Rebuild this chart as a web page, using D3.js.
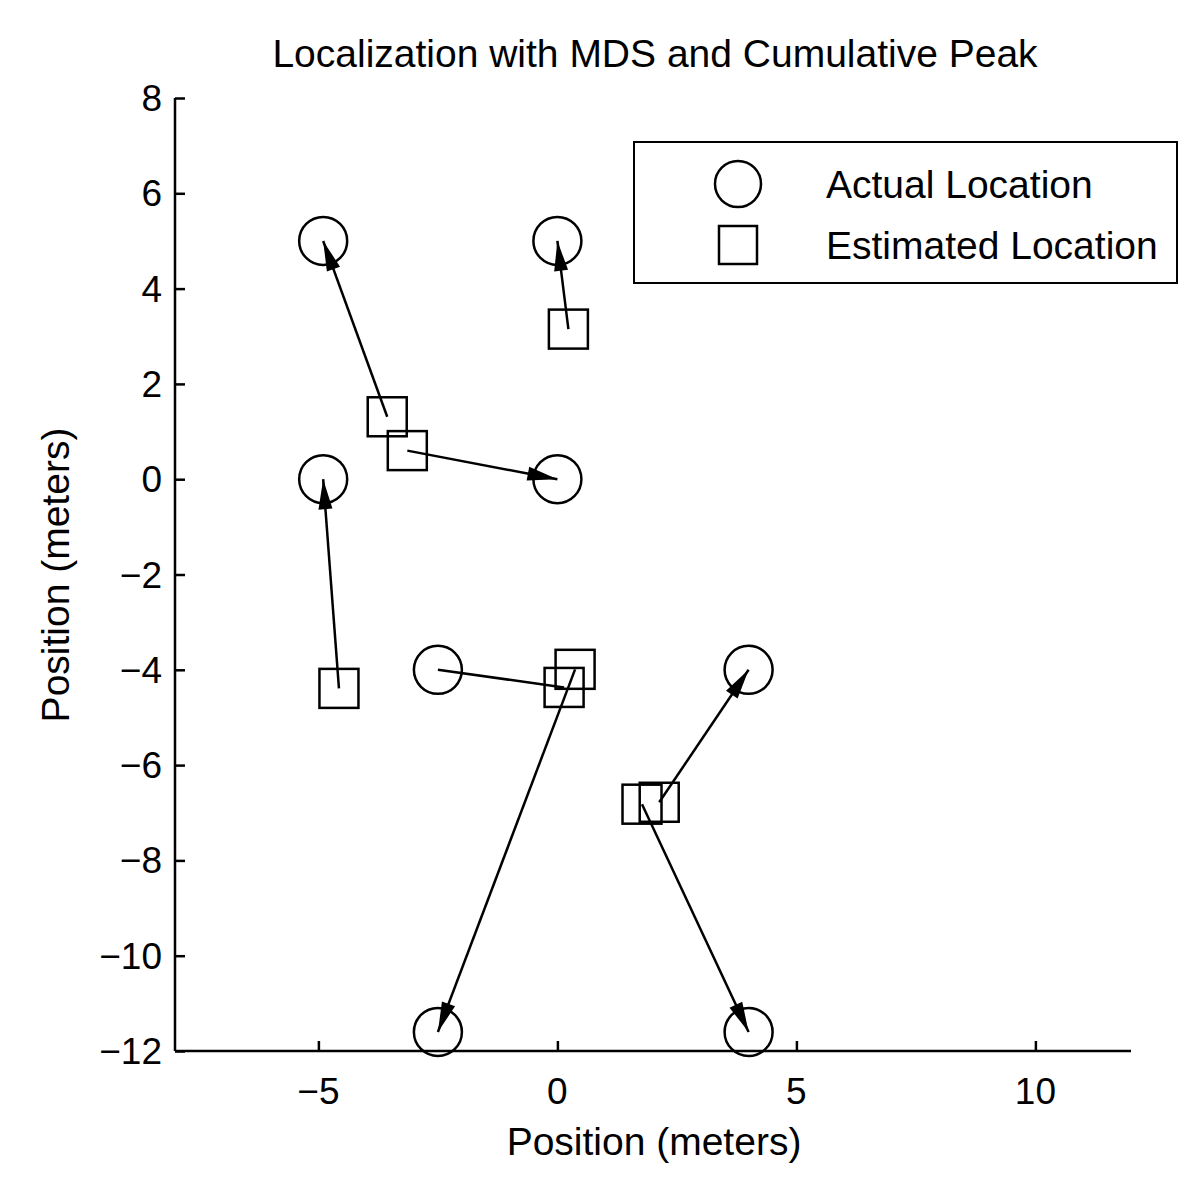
<!DOCTYPE html>
<html lang="en">
<head>
    <meta charset="UTF-8">
    <script src="https://d3js.org/d3.v7.min.js"></script>
    <style>
        body { margin: 0; background: #fff; }
        text { font-family: "Liberation Sans", Arial, sans-serif; fill: #000; }
    </style>
</head>
<body>
    <svg width="1200" height="1190" id="chart"></svg>

<script>
// Actual node positions (circles)
const actualX = [-4.9, 0, -4.9, 0, -2.5, 4, -2.5, 4];
const actualY = [5, 5, 0, 0, -4, -4, -11.6, -11.6];

// Estimated node positions (squares)
const estX = [-3.56, 0.23, -3.14, -4.57, 0.37, 0.14, 2.13, 1.77];
const estY = [1.31, 3.15, 0.60, -4.39, -3.99, -4.37, -6.78, -6.82];

// arrows: [estimated index, actual index]
const arrowFrom = [0, 1, 2, 3, 4, 5, 6, 7];
const arrowTo   = [0, 1, 3, 2, 6, 4, 5, 7];
const arrowHead = [true, true, true, true, true, false, true, true];

const xTicks = [-5, 0, 5, 10];
const yTicks = [8, 6, 4, 2, 0, -2, -4, -6, -8, -10, -12];

const svg = d3.select("#chart");

const x = d3.scaleLinear().domain([-8, 12]).range([175, 1131]);
const y = d3.scaleLinear().domain([-12, 8]).range([1051, 98]);

const fmt = d => d < 0 ? "\u2212" + Math.abs(d) : String(d);

// axes, ticks pointing inward
const xAxis = svg.append("g")
    .attr("transform", "translate(0," + y(-12) + ")")
    .call(d3.axisTop(x).tickValues(xTicks).tickSize(10).tickFormat(""));
xAxis.select(".domain").attr("d", "M" + x(-8) + ",0H" + x(12));

const yAxis = svg.append("g")
    .attr("transform", "translate(" + x(-8) + ",0)")
    .call(d3.axisRight(y).tickValues(yTicks).tickSize(10).tickFormat(""));
yAxis.select(".domain").attr("d", "M0," + y(8) + "V" + y(-12));

svg.selectAll(".domain, .tick line").attr("stroke", "#000").attr("stroke-width", 2.5);

// tick labels
svg.append("g").selectAll("text")
    .data(xTicks).enter().append("text")
    .attr("x", d => x(d))
    .attr("y", y(-12) + 53)
    .attr("text-anchor", "middle")
    .style("font-size", "37px")
    .text(fmt);

svg.append("g").selectAll("text")
    .data(yTicks).enter().append("text")
    .attr("x", x(-8) - 13)
    .attr("y", d => y(d) + 13)
    .attr("text-anchor", "end")
    .style("font-size", "37px")
    .text(fmt);

// titles
svg.append("text")
    .attr("x", 655).attr("y", 67)
    .attr("text-anchor", "middle")
    .style("font-size", "39px")
    .text("Localization with MDS and Cumulative Peak");

svg.append("text")
    .attr("x", 654).attr("y", 1155)
    .attr("text-anchor", "middle")
    .style("font-size", "39px")
    .text("Position (meters)");

svg.append("text")
    .attr("transform", "translate(69," + 575 + ") rotate(-90)")
    .attr("text-anchor", "middle")
    .style("font-size", "39px")
    .text("Position (meters)");

// arrow lines from estimate to actual
const arrows = arrowFrom.map((f, i) => ({
    x1: estX[f], y1: estY[f], x2: actualX[arrowTo[i]], y2: actualY[arrowTo[i]], head: arrowHead[i]
}));

const headLen = 30, headHalf = 7;

svg.append("g").selectAll("line")
    .data(arrows).enter().append("line")
    .attr("x1", d => x(d.x1)).attr("y1", d => y(d.y1))
    .attr("x2", d => x(d.x2)).attr("y2", d => y(d.y2))
    .attr("stroke", "#000").attr("stroke-width", 2.5);

svg.append("g").selectAll("path")
    .data(arrows.filter(d => d.head)).enter().append("path")
    .attr("d", function(d) {
        const tx = x(d.x2), ty = y(d.y2);
        const dx = tx - x(d.x1), dy = ty - y(d.y1);
        const L = Math.sqrt(dx * dx + dy * dy);
        const ux = dx / L, uy = dy / L;
        const bx = tx - ux * headLen, by = ty - uy * headLen;
        return "M" + tx + "," + ty +
            "L" + (bx - uy * headHalf) + "," + (by + ux * headHalf) +
            "L" + (bx + uy * headHalf) + "," + (by - ux * headHalf) + "Z";
    })
    .attr("fill", "#000");

// actual locations
svg.append("g").selectAll("circle")
    .data(actualX).enter().append("circle")
    .attr("cx", d => x(d))
    .attr("cy", (d, i) => y(actualY[i]))
    .attr("r", 24)
    .attr("fill", "none").attr("stroke", "#000").attr("stroke-width", 2.5);

// estimated locations
svg.append("g").selectAll("rect")
    .data(estX).enter().append("rect")
    .attr("x", d => x(d) - 19.5)
    .attr("y", (d, i) => y(estY[i]) - 19.5)
    .attr("width", 39).attr("height", 39)
    .attr("fill", "none").attr("stroke", "#000").attr("stroke-width", 2.5);

// legend
const legend = svg.append("g").attr("transform", "translate(634,142)");
legend.append("rect")
    .attr("width", 543).attr("height", 141)
    .attr("fill", "#fff").attr("stroke", "#000").attr("stroke-width", 2);
legend.append("circle")
    .attr("cx", 104).attr("cy", 42).attr("r", 23)
    .attr("fill", "none").attr("stroke", "#000").attr("stroke-width", 2.5);
legend.append("rect")
    .attr("x", 85).attr("y", 84).attr("width", 38).attr("height", 38)
    .attr("fill", "none").attr("stroke", "#000").attr("stroke-width", 2.5);
legend.append("text").attr("x", 192).attr("y", 56)
    .style("font-size", "39px").text("Actual Location");
legend.append("text").attr("x", 192).attr("y", 117)
    .style("font-size", "39px").text("Estimated Location");
</script>
</body>
</html>
